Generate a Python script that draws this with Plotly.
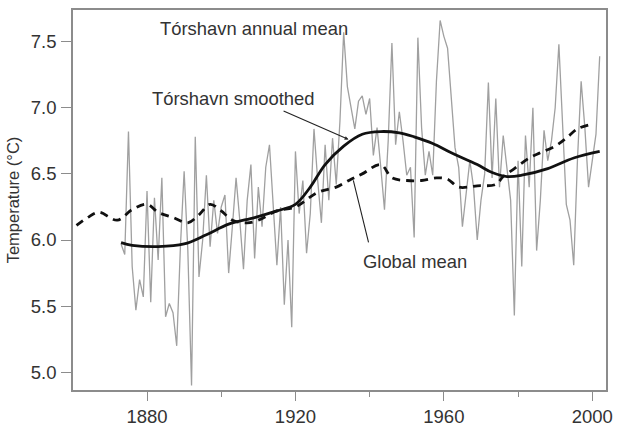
import plotly.graph_objects as go

# Tórshavn annual mean temperature (°C), 1873-2002
annual_years = list(range(1873, 2003))
annual_vals = [
    5.97, 5.89, 6.82, 5.80, 5.47, 5.70, 5.57, 6.37, 5.53, 6.32,   # 1873-1882
    5.85, 6.47, 5.42, 5.52, 5.45, 5.20, 5.95, 6.52, 5.92, 4.90,   # 1883-1892
    6.78, 5.72, 6.00, 6.49, 5.95, 6.30, 6.05, 6.25, 6.34, 5.75,   # 1893-1902
    6.10, 6.47, 6.15, 5.78, 6.30, 6.57, 5.86, 6.40, 6.10, 6.55,   # 1903-1912
    6.72, 6.30, 5.81, 6.25, 5.51, 6.00, 5.34, 6.67, 6.20, 6.45,   # 1913-1922
    5.90, 6.20, 6.84, 6.45, 6.13, 6.72, 6.30, 6.77, 6.42, 6.90,   # 1923-1932
    7.57, 7.16, 6.99, 6.84, 7.05, 7.09, 6.95, 7.07, 6.64, 6.85,   # 1933-1942
    6.55, 6.23, 6.75, 7.49, 6.72, 6.97, 6.75, 6.49, 6.55, 6.02,   # 1943-1952
    7.53, 6.85, 6.49, 6.67, 6.49, 7.20, 7.66, 7.54, 7.45, 7.07,   # 1953-1962
    6.70, 6.55, 6.10, 6.35, 6.60, 6.40, 6.00, 6.30, 6.50, 7.19,   # 1963-1972
    6.47, 7.07, 6.40, 6.79, 6.55, 6.30, 5.43, 6.60, 5.80, 6.79,   # 1973-1982
    6.40, 7.00, 5.92, 6.30, 6.83, 6.60, 6.75, 7.00, 7.48, 6.85,   # 1983-1992
    6.27, 6.15, 5.81, 6.60, 7.20, 6.85, 6.40, 6.60, 6.80, 7.39,   # 1993-2002
]

# Tórshavn smoothed
smooth_years = [1873, 1876, 1883, 1890, 1896, 1902, 1909, 1915, 1920, 1924,
                1928, 1933, 1938, 1943, 1948, 1952, 1957, 1962, 1969, 1973,
                1977, 1981, 1988, 1995, 2002]
smooth_vals = [5.98, 5.96, 5.95, 5.97, 6.04, 6.12, 6.17, 6.22, 6.27, 6.40,
               6.57, 6.71, 6.80, 6.82, 6.81, 6.78, 6.73, 6.66, 6.57, 6.51,
               6.48, 6.49, 6.54, 6.62, 6.67]

# Global mean (scaled)
global_years = [1861, 1864, 1867, 1872, 1876, 1880, 1883, 1887, 1891, 1894,
                1897, 1900, 1903, 1907, 1910, 1915, 1920, 1926, 1931, 1935,
                1938, 1943, 1946, 1950, 1954, 1958, 1961, 1964, 1969, 1974,
                1976, 1979, 1983, 1986, 1990, 1993, 1996, 1999]
global_vals = [6.11, 6.17, 6.21, 6.15, 6.23, 6.27, 6.21, 6.17, 6.13, 6.19,
               6.27, 6.22, 6.15, 6.13, 6.15, 6.22, 6.25, 6.36, 6.40, 6.46,
               6.50, 6.57, 6.47, 6.45, 6.45, 6.47, 6.46, 6.40, 6.41, 6.42,
               6.48, 6.54, 6.62, 6.66, 6.71, 6.77, 6.84, 6.87]

y_ticks = [5.0, 5.5, 6.0, 6.5, 7.0, 7.5]
x_ticks = [1880, 1920, 1960, 2000]

FONT = "Liberation Sans, Arial, sans-serif"
AXIS_COLOR = "#8c8c8c"
TEXT_COLOR = "#333333"

fig = go.Figure()
fig.add_trace(go.Scatter(x=annual_years, y=annual_vals, mode="lines",
                         line=dict(color="#a0a0a0", width=1.3),
                         showlegend=False, hoverinfo="skip"))
fig.add_trace(go.Scatter(x=global_years, y=global_vals, mode="lines",
                         line=dict(color="#111111", width=2.8, dash="8px,6px",
                                   shape="spline", smoothing=1.0),
                         showlegend=False, hoverinfo="skip"))
fig.add_trace(go.Scatter(x=smooth_years, y=smooth_vals, mode="lines",
                         line=dict(color="#111111", width=2.8,
                                   shape="spline", smoothing=1.0),
                         showlegend=False, hoverinfo="skip"))

annotations = [
    dict(x=1908.7, y=7.60, text="Tórshavn annual mean", showarrow=False),
    dict(x=1903.4, y=7.07, text="Tórshavn smoothed", showarrow=False),
    dict(x=1952.3, y=5.84, text="Global mean", showarrow=False),
    dict(x=1934.3, y=6.76, ax=1916.4, ay=6.98, axref="x", ayref="y",
         text="", showarrow=True, arrowhead=2, arrowsize=0.7, arrowwidth=1.1,
         arrowcolor="#222222"),
    dict(x=1935.6, y=6.45, ax=1939.8, ay=5.97, axref="x", ayref="y",
         text="", showarrow=True, arrowhead=0, arrowwidth=1.1,
         arrowcolor="#222222"),
]
for a in annotations:
    a.update(xref="x", yref="y", font=dict(family=FONT, size=18.4, color=TEXT_COLOR))

fig.update_layout(
    width=618, height=432,
    margin=dict(l=73, r=5, t=10, b=37),
    paper_bgcolor="white", plot_bgcolor="white",
    annotations=annotations,
    font=dict(family=FONT, color=TEXT_COLOR),
)
fig.update_xaxes(
    range=[1860.05, 2003.7], tickvals=x_ticks, ticktext=[str(v) for v in x_ticks],
    ticks="outside", ticklen=9, tickwidth=1.3, tickcolor=AXIS_COLOR,
    minor=dict(tickvals=[1860, 1900, 1940, 1980], ticks="outside", ticklen=5,
               tickwidth=1.3, tickcolor=AXIS_COLOR),
    showline=True, linecolor=AXIS_COLOR, linewidth=1.5, mirror=True,
    showgrid=False, zeroline=False,
    tickfont=dict(family=FONT, size=18.5, color=TEXT_COLOR),
)
fig.update_yaxes(
    range=[4.866, 7.739], tickvals=y_ticks, ticktext=[f"{v:.1f}" for v in y_ticks],
    ticks="outside", ticklen=10, tickwidth=1.3, tickcolor=AXIS_COLOR,
    ticklabelstandoff=1,
    showline=True, linecolor=AXIS_COLOR, linewidth=1.5, mirror=True,
    showgrid=False, zeroline=False,
    tickfont=dict(family=FONT, size=18.5, color=TEXT_COLOR),
    title=dict(text="Temperature (°C)", standoff=7,
               font=dict(family=FONT, size=16.5, color=TEXT_COLOR)),
)

fig.write_html("out.html",
               config={"displayModeBar": False},
               post_script="document.body.style.margin='0';document.body.style.overflow='hidden';")
